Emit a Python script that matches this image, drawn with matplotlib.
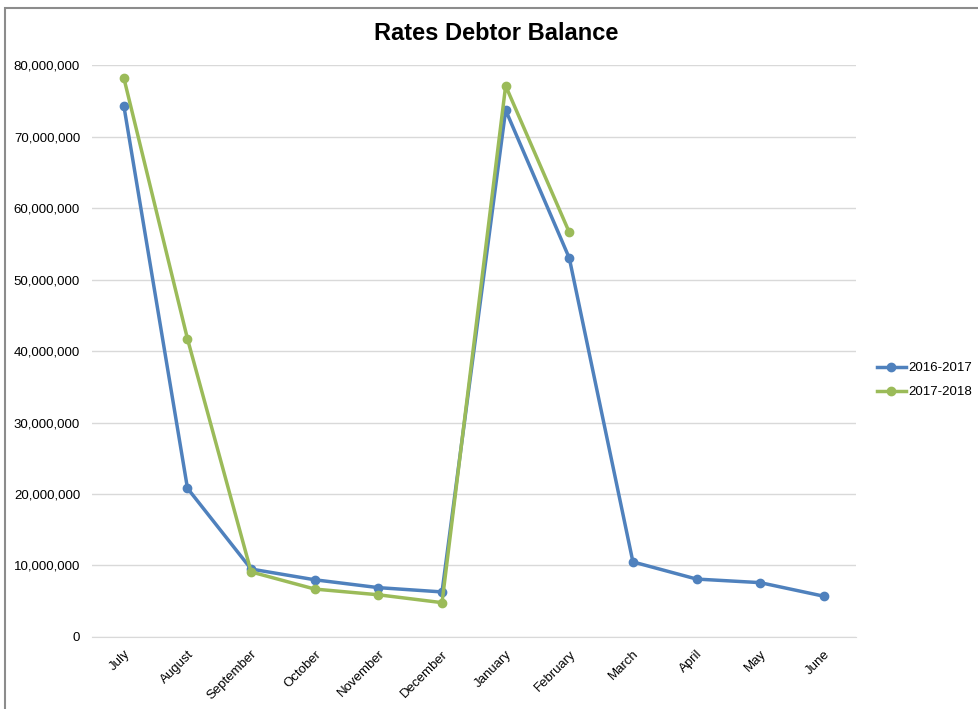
import matplotlib.pyplot as plt
from matplotlib.patches import Rectangle
from matplotlib.ticker import FuncFormatter

plt.rcParams['font.family'] = ['Liberation Sans', 'DejaVu Sans']

months = ['July', 'August', 'September', 'October', 'November', 'December',
          'January', 'February', 'March', 'April', 'May', 'June']

# balances
bal_2016_2017 = [74.3e6, 20.8e6, 9.5e6, 8.0e6, 6.9e6, 6.3e6,
                 73.7e6, 53.0e6, 10.5e6, 8.1e6, 7.6e6, 5.7e6]
bal_2017_2018 = [78.2e6, 41.7e6, 9.1e6, 6.7e6, 5.9e6, 4.8e6,
                 77.1e6, 56.6e6]

fig = plt.figure(figsize=(9.79, 7.09), dpi=100)
ax = fig.add_axes([0.094, 0.1016, 0.78, 0.8066])

# chart border (cropped screenshot: only top and left visible)
fig.patches.append(Rectangle((5 / 979, -0.1), 1.2, 1 - 8 / 709 + 0.1,
                             transform=fig.transFigure, fill=False,
                             edgecolor='#8c8c8c', linewidth=1.5))

x1 = list(range(len(bal_2016_2017)))
x2 = list(range(len(bal_2017_2018)))
ax.plot(x1, bal_2016_2017, color='#4F81BD', linewidth=2.5, marker='o',
        markersize=6, label='2016-2017')
ax.plot(x2, bal_2017_2018, color='#9BBB59', linewidth=2.5, marker='o',
        markersize=6, label='2017-2018')

ax.set_xlim(-0.5, 11.5)
ax.set_ylim(0, 80e6)
ax.set_yticks(range(0, 80000001, 10000000))
ax.yaxis.set_major_formatter(FuncFormatter(lambda v, p: f'{int(v):,}'))
ax.set_xticks(x1)
ax.set_xticklabels(months, rotation=45, ha='right', rotation_mode='anchor')

ax.grid(axis='y', color='#d9d9d9', linewidth=1)
ax.set_axisbelow(True)
for s in ['top', 'right', 'left']:
    ax.spines[s].set_visible(False)
ax.spines['bottom'].set_color('#d9d9d9')
ax.tick_params(axis='both', length=0, labelsize=9.5, colors='black')
ax.tick_params(axis='y', pad=8.6)
ax.tick_params(axis='x', pad=8)

fig.text(496 / 979, 1 - 33 / 709, 'Rates Debtor Balance', fontsize=17,
         fontweight='bold', ha='center', va='center')

ax.legend(loc='center left', bbox_to_anchor=(1.021, 0.449), frameon=False,
          fontsize=9.5, handlelength=2.2, handletextpad=0.15, labelspacing=0.9,
          borderaxespad=0)

fig.savefig('out.png', dpi=100)
